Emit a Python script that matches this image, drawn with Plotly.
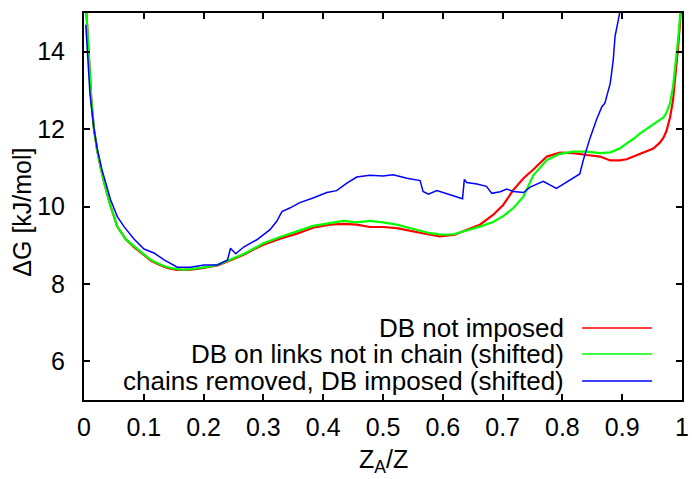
import plotly.graph_objects as go

# Free-energy profiles dG(Z_A/Z) for three simulation protocols
rg_x = [0.003, 0.006, 0.009, 0.0125, 0.0167, 0.022, 0.028, 0.034, 0.0446, 0.0557,
        0.07, 0.0836, 0.1, 0.1115, 0.125, 0.139, 0.155, 0.167, 0.18, 0.195,
        0.21, 0.223, 0.237, 0.251, 0.268, 0.285, 0.3, 0.328, 0.356, 0.383,
        0.411, 0.434, 0.456, 0.478, 0.5, 0.523, 0.551, 0.579, 0.595, 0.606,
        0.62, 0.634, 0.662, 0.684, 0.701, 0.718, 0.735, 0.751, 0.774, 0.796,
        0.818, 0.841, 0.863, 0.88, 0.896, 0.9075, 0.919, 0.93, 0.941, 0.952,
        0.963, 0.969, 0.974, 0.98, 0.985, 0.989, 0.991, 0.994, 0.997, 1.0]

red_y = [15.3, 14.5, 13.6, 12.7, 12.0, 11.45, 11.0, 10.6, 10.0, 9.48,
         9.15, 8.95, 8.75, 8.6, 8.5, 8.41, 8.36, 8.36, 8.37, 8.4,
         8.44, 8.48, 8.56, 8.65, 8.76, 8.9, 9.01, 9.17, 9.3, 9.45,
         9.53, 9.55, 9.53, 9.47, 9.47, 9.44, 9.35, 9.27, 9.23, 9.25,
         9.27, 9.36, 9.53, 9.78, 10.04, 10.43, 10.73, 10.95, 11.29, 11.39,
         11.38, 11.33, 11.29, 11.19, 11.19, 11.22, 11.29, 11.35, 11.42, 11.5,
         11.65, 11.78, 11.95, 12.3, 12.75, 13.35, 13.7, 14.21, 14.82, 15.5]

green_y = [15.3, 14.5, 13.6, 12.7, 12.0, 11.45, 11.0, 10.6, 10.0, 9.48,
           9.15, 8.97, 8.76, 8.62, 8.52, 8.43, 8.38, 8.37, 8.38, 8.41,
           8.45, 8.49, 8.57, 8.67, 8.78, 8.93, 9.05, 9.21, 9.35, 9.5,
           9.57, 9.63, 9.59, 9.63, 9.59, 9.53, 9.42, 9.31, 9.28, 9.27,
           9.29, 9.35, 9.48, 9.6, 9.75, 9.96, 10.26, 10.8, 11.2, 11.36,
           11.42, 11.42, 11.38, 11.4, 11.5, 11.63, 11.75, 11.89, 12.0, 12.11,
           12.22, 12.3, 12.42, 12.67, 13.1, 13.6, 13.96, 14.4, 14.9, 15.5]

blue_x = [0.003, 0.006, 0.01, 0.0167, 0.022, 0.03, 0.038, 0.0446, 0.0557, 0.0669,
          0.0836, 0.1003, 0.117, 0.134, 0.156, 0.178, 0.2007, 0.223, 0.24, 0.245,
          0.2536, 0.2676, 0.289, 0.311, 0.322, 0.331, 0.344, 0.361, 0.383, 0.406,
          0.4225, 0.439, 0.456, 0.478, 0.5, 0.517, 0.54, 0.562, 0.567, 0.576,
          0.59, 0.606, 0.629, 0.633, 0.636, 0.64, 0.657, 0.673, 0.682, 0.696,
          0.707, 0.718, 0.735, 0.746, 0.768, 0.79, 0.8127, 0.829, 0.835, 0.846,
          0.857, 0.866, 0.871, 0.88, 0.885, 0.888, 0.8935, 0.897]

blue_y = [14.7, 13.9, 12.9, 12.0, 11.5, 10.95, 10.5, 10.17, 9.74, 9.48,
          9.16, 8.9, 8.8, 8.62, 8.43, 8.43, 8.49, 8.49, 8.62, 8.92,
          8.78, 8.96, 9.14, 9.4, 9.61, 9.87, 9.96, 10.1, 10.22, 10.36,
          10.41, 10.6, 10.76, 10.81, 10.79, 10.82, 10.73, 10.67, 10.39, 10.32,
          10.41, 10.34, 10.22, 10.2, 10.7, 10.62, 10.58, 10.52, 10.34, 10.38,
          10.45, 10.39, 10.36, 10.5, 10.65, 10.47, 10.69, 10.84, 11.2, 11.76,
          12.24, 12.58, 12.67, 13.18, 13.78, 14.39, 14.82, 15.1]

series = [
    ("DB not imposed", rg_x, red_y, "#ff0000", 2.2),
    ("DB on links not in chain (shifted)", rg_x, green_y, "#00ff00", 2.2),
    ("chains removed, DB imposed (shifted)", blue_x, blue_y, "#0000ff", 1.5),
]

x_ticks = [0, 0.1, 0.2, 0.3, 0.4, 0.5, 0.6, 0.7, 0.8, 0.9, 1]
x_tick_text = ["0", "0.1", "0.2", "0.3", "0.4", "0.5", "0.6", "0.7", "0.8", "0.9", "1"]
y_ticks = [6, 8, 10, 12, 14]

FONT = "Liberation Sans, Arial, sans-serif"
FS = 25
KEY_FS = 26

fig = go.Figure()
for name, xs, ys, color, w in series:
    fig.add_trace(go.Scatter(x=xs, y=ys, mode="lines", name=name,
                             line=dict(color=color, width=w), showlegend=False))

# key: right-aligned labels with a short line sample on their right
key_rows = [0.186, 0.119, 0.049]
for (name, _, _, color, _), ky in zip(series, key_rows):
    fig.add_annotation(x=0.806, y=ky, xref="paper", yref="paper", text=name,
                       showarrow=False, xanchor="right", yanchor="middle",
                       font=dict(family=FONT, size=KEY_FS, color="black"))
    fig.add_shape(type="line", xref="paper", yref="paper", x0=0.833, x1=0.950,
                  y0=ky, y1=ky, line=dict(color=color, width=1.5))

# axis titles
fig.add_annotation(x=-0.103, y=0.485, xref="paper", yref="paper", text="ΔG [kJ/mol]",
                   textangle=-90, showarrow=False, xanchor="center", yanchor="middle",
                   font=dict(family=FONT, size=FS, color="black"))
fig.add_annotation(x=0.5, y=-0.158, xref="paper", yref="paper", text="Z<sub>A</sub>/Z",
                   showarrow=False, xanchor="center", yanchor="middle",
                   font=dict(family=FONT, size=FS, color="black"))

axis_common = dict(showline=True, linecolor="black", linewidth=2, mirror="ticks",
                   ticks="inside", ticklen=6, tickwidth=2, tickcolor="black",
                   showgrid=False, zeroline=False, automargin=False,
                   tickfont=dict(family=FONT, size=FS, color="black"))

fig.update_xaxes(range=[0, 1], tickvals=x_ticks, ticktext=x_tick_text,
                 ticklabelstandoff=4, **axis_common)
fig.update_yaxes(range=[5, 15], tickvals=y_ticks, ticklabelstandoff=12,
                 **axis_common)

fig.update_layout(width=692, height=479, margin=dict(l=84, r=10, t=13, b=79),
                  plot_bgcolor="white", paper_bgcolor="white")

fig.write_html("out.html")
